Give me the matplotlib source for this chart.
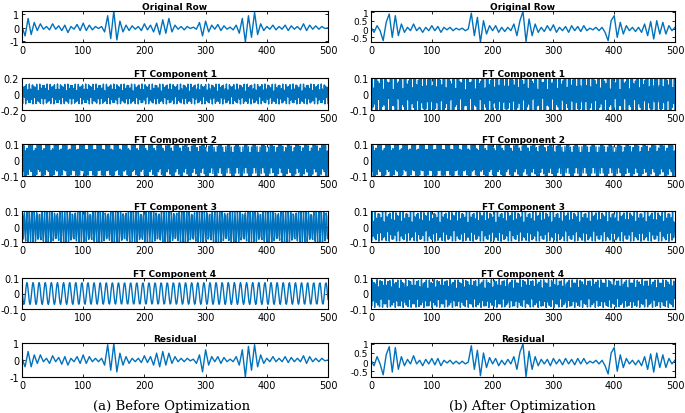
import numpy as np
import matplotlib.pyplot as plt

# sample positions for the hand-read signals (one value every 5 samples)
x_coarse = np.arange(0, 501, 5)
n = np.arange(0, 501)

orig_before = [0.1, -0.6, 0.7, -0.5, 0.4, -0.2, 0.3, -0.1, 0.1, -0.15,
               0.3, -0.1, 0.15, -0.2, 0.2, -0.35, 0.1, -0.1, 0.25, -0.2,
               0.35, -0.2, 0.2, -0.15, 0.1, -0.05, 0.1, -0.3, 0.9, -0.8,
               1.25, -0.9, 0.5, -0.3, 0.2, -0.2, 0.15, -0.1, 0.1, -0.2,
               0.3, -0.15, 0.2, -0.3, 0.35, -0.5, 0.6, -0.4, 0.7, -0.3,
               0.2, -0.1, 0.1, -0.15, 0.1, -0.05, 0.05, -0.1, 0.4, -0.6,
               0.5, -0.3, 0.2, -0.1, 0.25, -0.2, 0.15, -0.1, 0.05, -0.15,
               0.2, -0.4, 0.7, -1.05, 0.9, -0.7, 1.15, -0.5, 0.3, -0.2,
               0.1, -0.1, 0.2, -0.15, 0.1, -0.1, 0.2, -0.2, 0.15, -0.1,
               0.1, -0.15, 0.3, -0.2, 0.2, -0.1, 0.15, -0.1, 0.1, -0.05, 0.0]

resid_before = [0.1, -0.4, 0.5, -0.4, 0.3, -0.2, 0.3, -0.1, 0.1, -0.2,
                0.25, -0.1, 0.15, -0.25, 0.2, -0.3, 0.1, -0.1, 0.2, -0.2,
                0.3, -0.2, 0.2, -0.1, 0.1, -0.1, 0.1, -0.3, 0.9, -0.6,
                0.95, -0.7, 0.4, -0.3, 0.2, -0.2, 0.1, -0.1, 0.1, -0.15,
                0.25, -0.15, 0.2, -0.3, 0.4, -0.4, 0.5, -0.3, 0.4, -0.2,
                0.2, -0.1, 0.1, -0.1, 0.1, -0.05, 0.05, -0.2, 0.3, -0.7,
                0.6, -0.3, 0.2, -0.1, 0.2, -0.2, 0.15, -0.1, 0.05, -0.1,
                0.2, -0.3, 0.6, -1.0, 0.8, -0.6, 0.9, -0.4, 0.3, -0.2,
                0.1, -0.1, 0.2, -0.1, 0.1, -0.1, 0.2, -0.15, 0.15, -0.1,
                0.1, -0.1, 0.25, -0.2, 0.2, -0.1, 0.1, -0.1, 0.1, -0.05, 0.0]

orig_after = [0.1, -0.2, 0.2, -0.1, -0.7, 0.4, 0.9, -0.5, 0.8, -0.4,
              0.3, -0.2, 0.1, -0.1, 0.3, -0.1, 0.1, -0.2, 0.1, -0.1,
              0.2, -0.1, 0.15, -0.2, 0.1, -0.05, 0.1, -0.1, 0.05, -0.05,
              0.05, -0.1, 0.0, 0.95, -0.4, 0.7, -0.8, 0.5, -0.3, 0.2,
              -0.1, 0.2, -0.2, 0.1, -0.15, 0.1, -0.1, 0.3, -0.4, 0.5,
              1.05, -0.75, 0.6, -0.4, 0.3, -0.2, 0.1, -0.15, 0.2, -0.1,
              0.25, -0.2, 0.1, -0.1, 0.15, -0.2, 0.2, -0.1, 0.15, -0.15,
              0.2, -0.1, 0.05, -0.05, 0.1, -0.1, 0.1, -0.2, -0.7, 0.5,
              0.8, -0.5, 0.4, -0.3, 0.2, -0.1, 0.1, -0.15, 0.1, -0.2,
              0.3, -0.4, 0.45, -0.6, 0.5, -0.3, 0.4, -0.3, 0.2, -0.1, 0.1]

resid_after = [0.1, -0.2, 0.3, -0.1, -0.7, 0.4, 0.85, -0.55, 0.8, -0.4,
               0.3, -0.2, 0.15, -0.1, 0.35, -0.1, 0.1, -0.2, 0.15, -0.1,
               0.2, -0.15, 0.2, -0.2, 0.1, -0.05, 0.1, -0.1, 0.05, -0.1,
               0.05, -0.1, 0.0, 0.9, -0.4, 0.65, -0.75, 0.5, -0.3, 0.25,
               -0.1, 0.2, -0.2, 0.1, -0.15, 0.15, -0.1, 0.3, -0.4, 0.55,
               1.0, -0.8, 0.6, -0.4, 0.3, -0.2, 0.15, -0.1, 0.15, -0.2,
               0.2, -0.1, 0.15, -0.15, 0.2, -0.1, 0.15, -0.15, 0.2, -0.1,
               0.2, -0.1, 0.05, -0.05, 0.1, -0.1, 0.1, -0.2, -0.65, 0.5,
               0.8, -0.5, 0.4, -0.3, 0.2, -0.1, 0.1, -0.15, 0.1, -0.2,
               0.3, -0.4, 0.45, -0.55, 0.5, -0.3, 0.4, -0.3, 0.2, -0.1, 0.1]

# FT components: frequency (cycles/sample), amplitude, phase
ft_freq_before = [0.413, 0.357, 0.241, 0.1003]
ft_amp_before = [0.125, 0.105, 0.105, 0.07]
ft_freq_after = [0.437, 0.357, 0.413, 0.383]
ft_amp_after = [0.13, 0.105, 0.095, 0.09]
ft_phase = [0.3, 0.1, 0.8, 1.2]

blue = '#0072BD'
fig = plt.figure(figsize=(6.85, 4.14), dpi=100)
W, H = 685.0, 414.0

tops = [12, 79, 145, 212, 279, 344]
heights = [31, 32, 32, 31, 31, 34]
cols = [(22, 306), (371, 304)]


def make_ax(col, row):
    x0, w = cols[col]
    t, h = tops[row], heights[row]
    ax = fig.add_axes([x0 / W, 1 - (t + h) / H, w / W, h / H])
    ax.set_xlim(0, 500)
    ax.set_xticks([0, 100, 200, 300, 400, 500])
    ax.tick_params(direction='in', top=True, right=True, labelsize=7,
                   length=2.5, width=0.6, pad=2)
    for s in ax.spines.values():
        s.set_linewidth(0.8)
    return ax


def title(ax, txt):
    ax.set_title(txt, fontsize=6.5, fontweight='bold', pad=1.5)


panels = [
    (0, orig_before, resid_before, ft_freq_before, ft_amp_before,
     (-1.05, 1.25), [-1, 0, 1], ['-1', '0', '1'], (-1.0, 1.0)),
    (1, orig_after, resid_after, ft_freq_after, ft_amp_after,
     (-0.78, 1.08), [-0.5, 0, 0.5, 1], ['-0.5', '0', '0.5', '1'], (-0.82, 1.05)),
]

for col, orig, resid, ffreq, famp, ylo, yt, ytl, yres in panels:
    lab = 6.5 if col == 1 else 7
    ax = make_ax(col, 0)
    ax.plot(x_coarse, orig, color=blue, lw=1.0)
    ax.set_ylim(*ylo)
    ax.set_yticks(yt)
    ax.set_yticklabels(ytl, fontsize=lab)
    title(ax, 'Original Row')

    for k in range(4):
        ax = make_ax(col, k + 1)
        y = famp[k] * np.cos(2 * np.pi * ffreq[k] * n + ft_phase[k])
        ax.plot(n, y, color=blue, lw=1.0)
        if col == 0 and k == 0:
            ax.set_ylim(-0.2, 0.2)
            ax.set_yticks([-0.2, 0, 0.2])
            ax.set_yticklabels(['-0.2', '0', '0.2'])
        else:
            ax.set_ylim(-0.1, 0.1)
            ax.set_yticks([-0.1, 0, 0.1])
            ax.set_yticklabels(['-0.1', '0', '0.1'])
        title(ax, 'FT Component %d' % (k + 1))

    ax = make_ax(col, 5)
    ax.plot(x_coarse, resid, color=blue, lw=1.0)
    ax.set_ylim(*yres)
    ax.set_yticks(yt)
    ax.set_yticklabels(ytl, fontsize=lab)
    title(ax, 'Residual')

fig.text(172 / W, 1 - 407 / H, '(a) Before Optimization', ha='center',
         va='center', fontsize=9.5, family='DejaVu Serif')
fig.text(522 / W, 1 - 407 / H, '(b) After Optimization', ha='center',
         va='center', fontsize=9.5, family='DejaVu Serif')

fig.savefig('out.png', dpi=100)
